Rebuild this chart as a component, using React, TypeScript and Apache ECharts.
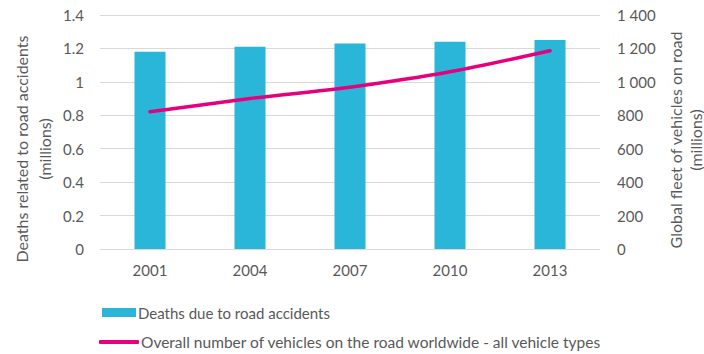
import React, { useEffect, useRef } from "react";
import * as echarts from "echarts";

const years = ["2001", "2004", "2007", "2010", "2013"];
const deaths = [1.18, 1.21, 1.23, 1.24, 1.25];
const vehicles = [821, 900, 968, 1060, 1186];
const barName = "Deaths due to road accidents";
const lineName = "Overall number of vehicles on the road worldwide - all vehicle types";
const leftTitle = ["Deaths related to road accidents", "(millions)"];
const rightTitle = ["Global fleet of vehicles on road", "(millions)"];

const FONT = "Lato";
const GRAY = "#595959";

export default function App() {
  const ref = useRef<HTMLDivElement>(null);
  useEffect(() => {
    const chart = echarts.init(ref.current!, null, { renderer: "svg" });
    chart.setOption({
      animation: false,
      textStyle: { fontFamily: FONT, color: GRAY },
      grid: { left: 100, right: 104, top: 15, bottom: 105, containLabel: false },
      xAxis: {
        type: "category",
        data: years,
        axisLine: { show: false },
        axisTick: { show: false },
        axisLabel: { color: GRAY, fontSize: 15, fontFamily: FONT, margin: 13 },
      },
      yAxis: [
        {
          type: "value",
          min: 0,
          max: 1.4,
          interval: 0.2,
          axisLabel: {
            color: GRAY,
            fontSize: 15,
            fontFamily: FONT,
            margin: 16,
            formatter: (v: number) => String(Math.round(v * 10) / 10),
          },
          splitLine: { lineStyle: { color: "#d9d9d9", width: 1 } },
          axisLine: { show: false },
          axisTick: { show: false },
        },
        {
          type: "value",
          min: 0,
          max: 1400,
          interval: 200,
          position: "right",
          axisLabel: {
            color: GRAY,
            fontSize: 15,
            fontFamily: FONT,
            margin: 17,
            formatter: (v: number) => (v >= 1000 ? String(v).replace(/(\d)(\d{3})$/, "$1 $2") : String(v)),
          },
          splitLine: { show: false },
          axisLine: { show: false },
          axisTick: { show: false },
        },
      ],
      legend: [
        {
          data: [{ name: barName, icon: "rect" }],
          left: 97,
          top: 300,
          itemWidth: 34,
          itemHeight: 9,
          itemGap: 5,
          textStyle: { color: GRAY, fontSize: 15, fontFamily: FONT, padding: [0, 0, 0, -3] },
        },
        {
          data: [{ name: lineName, icon: "roundRect" }],
          left: 94,
          top: 329,
          itemWidth: 40,
          itemHeight: 4,
          textStyle: { color: GRAY, fontSize: 15.5, fontFamily: FONT, padding: [0, 0, 0, -3] },
        },
      ],
      graphic: [
        {
          type: "text",
          x: 10,
          y: 149,
          rotation: Math.PI / 2,
          style: {
            text: leftTitle.join("\n"),
            fill: GRAY,
            font: `16px ${FONT}`,
            align: "center",
            verticalAlign: "top",
            lineHeight: 23,
          },
        },
        {
          type: "text",
          x: 665,
          y: 140,
          rotation: Math.PI / 2,
          style: {
            text: rightTitle.join("\n"),
            fill: GRAY,
            font: `16px ${FONT}`,
            align: "center",
            verticalAlign: "top",
            lineHeight: 20,
          },
        },
      ],
      series: [
        {
          name: barName,
          type: "bar",
          data: deaths,
          yAxisIndex: 0,
          barWidth: "31%",
          itemStyle: { color: "#29b6d9" },
        },
        {
          name: lineName,
          type: "line",
          data: vehicles,
          yAxisIndex: 1,
          smooth: 0.3,
          symbol: "none",
          lineStyle: { color: "#e5007e", width: 3.5, cap: "round" },
          itemStyle: { color: "#e5007e" },
        },
      ],
    });
    return () => chart.dispose();
  }, []);
  return <div ref={ref} style={{ width: 704, height: 354, position: "absolute", left: 0, top: 0 }} />;
}
